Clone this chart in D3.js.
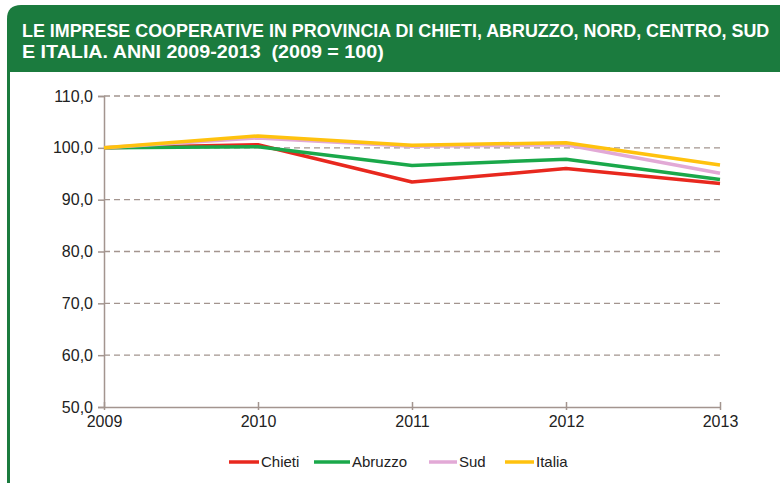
<!DOCTYPE html>
<html lang="it">
<head>
    <meta charset="UTF-8">
    <title>Imprese cooperative 2009-2013</title>
    <script src="https://d3js.org/d3.v7.min.js"></script>
    <style>
        body { margin: 0; background: #fff; }
        .title { fill: #fff; font-family: "Liberation Sans Narrow", "Liberation Sans", sans-serif; font-weight: bold; font-size: 19px; white-space: pre; }
        .tick text { font-family: "Liberation Sans", sans-serif; font-size: 16px; fill: #222; }
        .legend text { font-family: "Liberation Sans", sans-serif; font-size: 15px; fill: #222; }
    </style>
</head>
<body>
    <svg width="780" height="483"></svg>
    <script>
        // data (2009 = 100)
        const years = [2009, 2010, 2011, 2012, 2013];
        const chieti = [100, 100.6, 93.4, 96.0, 93.1];
        const abruzzo = [100, 100.2, 96.6, 97.8, 93.9];
        const sud = [100, 101.9, 100.3, 100.6, 95.1];
        const italia = [100, 102.3, 100.5, 101.0, 96.7];
        const yTicks = [50, 60, 70, 80, 90, 100, 110];

        const series = [
            { name: "Chieti", values: chieti, color: "#e8281e" },
            { name: "Abruzzo", values: abruzzo, color: "#1aa84a" },
            { name: "Sud", values: sud, color: "#e2a9d6" },
            { name: "Italia", values: italia, color: "#ffc20e" }
        ];

        const svg = d3.select("svg");
        const green = "#1b7b3e";
        const axisColor = "#a3958f";

        // frame: header band with rounded corner and left border
        svg.append("path")
            .attr("d", "M7,72 L7,19 Q7,5 21,5 L790,5 L790,72 Z")
            .attr("fill", green);
        svg.append("rect")
            .attr("x", 7).attr("y", 70).attr("width", 3).attr("height", 420)
            .attr("fill", green);

        // title lines, squeezed horizontally to the width of the original
        const titles = [
            { text: "LE IMPRESE COOPERATIVE IN PROVINCIA DI CHIETI, ABRUZZO, NORD, CENTRO, SUD", y: 37, w: 748 },
            { text: "E ITALIA. ANNI 2009-2013  (2009 = 100)", y: 58, w: 362 }
        ];
        titles.forEach(t => {
            const el = svg.append("text").attr("class", "title")
                .attr("x", 0).attr("y", 0)
                .text(t.text);
            const len = el.node().getComputedTextLength();
            el.attr("transform", `translate(22,${t.y}) scale(${t.w / len},1)`);
        });

        const x = d3.scalePoint().domain(years).range([104, 720]);
        const y = d3.scaleLinear().domain([50, 110]).range([407, 96]);

        // gridlines
        svg.append("g")
            .selectAll("line")
            .data(yTicks.filter(d => d > 50))
            .enter().append("line")
            .attr("x1", 104).attr("x2", 720)
            .attr("y1", d => y(d)).attr("y2", d => y(d))
            .attr("stroke", axisColor)
            .attr("stroke-width", 1.3)
            .attr("stroke-dasharray", "6,4");

        // y axis
        const yAxis = svg.append("g")
            .attr("transform", "translate(104,0)")
            .call(d3.axisLeft(y).tickValues(yTicks).tickSize(6).tickPadding(5)
                .tickFormat(d => d3.format(".1f")(d).replace(".", ",")));
        yAxis.selectAll("line, path").attr("stroke", axisColor).attr("stroke-width", 1.5);

        // x axis
        const xAxis = svg.append("g")
            .attr("transform", "translate(0,407)")
            .call(d3.axisBottom(x).tickSize(5).tickPadding(4).tickSizeOuter(0));
        xAxis.selectAll("line, path").attr("stroke", axisColor).attr("stroke-width", 1.5);
        xAxis.selectAll(".tick line").attr("y1", -5).attr("y2", 3);

        // lines (Italia drawn last, on top)
        const line = d3.line()
            .x((d, i) => x(years[i]))
            .y(d => y(d));

        svg.append("g")
            .selectAll("path")
            .data(series)
            .enter().append("path")
            .attr("d", d => line(d.values))
            .attr("fill", "none")
            .attr("stroke", d => d.color)
            .attr("stroke-width", 3.5)
            .attr("stroke-linejoin", "round");

        // legend
        const legendX = [229, 314, 429, 505];
        const legendW = [30, 36, 28, 29];
        const legend = svg.append("g").attr("class", "legend")
            .selectAll("g")
            .data(series)
            .enter().append("g")
            .attr("transform", (d, i) => `translate(${legendX[i]},462)`);
        legend.append("line")
            .attr("x1", 0).attr("x2", (d, i) => legendW[i])
            .attr("stroke", d => d.color)
            .attr("stroke-width", 3.5);
        legend.append("text")
            .attr("x", (d, i) => legendW[i] + 2)
            .attr("dy", "0.35em")
            .text(d => d.name);
    </script>
</body>
</html>
